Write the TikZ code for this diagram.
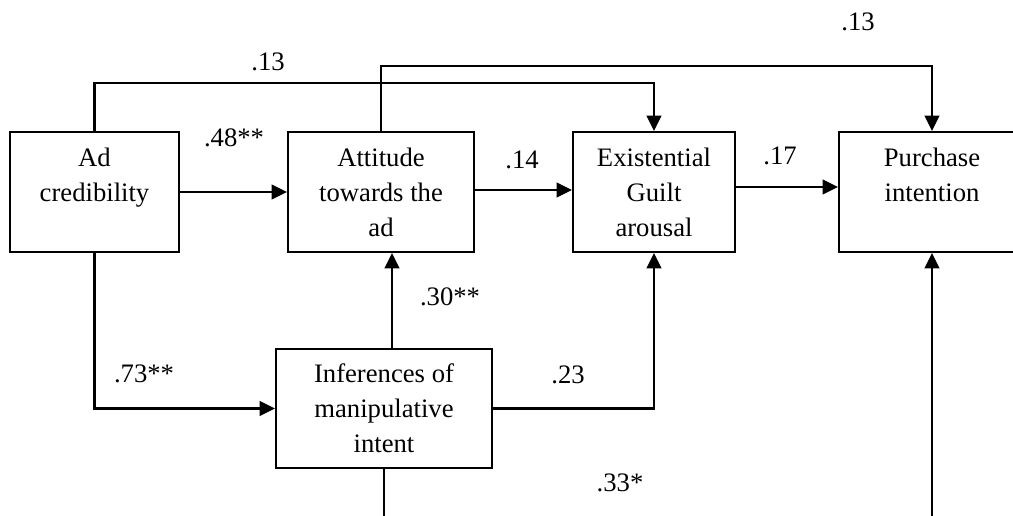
\documentclass[tikz,border=0pt]{standalone}
\usepackage{fontspec}
\setmainfont{Liberation Serif}
\usetikzlibrary{arrows.meta,positioning}

\tikzset{
  box/.style={draw, line width=1.6pt, align=center, inner sep=0pt,
    minimum height=90pt,
    font=\fontsize{20}{26.25}\selectfont},
  coef/.style={inner sep=0pt, font=\fontsize{20}{24}\selectfont},
  arr/.style={line width=1.6pt, -{Triangle[length=11.5pt,width=11pt]}},
}

\begin{document}
\begin{tikzpicture}[x=0.75pt, y=-0.75pt]
  \useasboundingbox (0,0) rectangle (1013,515);
  \clip (0,0) rectangle (1013,515);

  % constructs
  \node[box, minimum width=126.75pt] (ad)  at (94.5,192) {Ad\\credibility\\\mbox{}};
  \node[box, minimum width=139.5pt]  (att) at (381,192)  {Attitude\\towards the\\ad};
  \node[box, minimum width=121.5pt]  (ex)  at (654,192)  {Existential\\Guilt\\arousal};
  \node[box, minimum width=139.5pt]  (pur) at (932,192)  {Purchase\\intention\\\mbox{}};
  \node[box, minimum width=162pt, minimum height=89.25pt] (inf) at (384,408.5)
    {Inferences of\\manipulative\\intent};

  \coordinate (infup) at (392,0);

  % paths
  \draw[arr] (ad.east) -- (att.west);
  \draw[arr] ([yshift=1.5pt]att.east) -- ([yshift=1.5pt]ex.west);
  \draw[arr] ([yshift=3.75pt]ex.east) -- ([yshift=3.75pt]pur.west);
  \draw[arr] (ad.north) -- ++(0,-48) -| (ex.north);
  \draw[arr] (att.north) -- ++(0,-65) -| (pur.north);
  \draw[arr] (ad.south) |- (inf.west);
  \draw[arr] (inf.north -| infup) -- (att.south -| infup);
  \draw[arr] (inf.east) -| (ex.south);
  \draw[arr] (inf.south) -- ++(0,140) -| (pur.south);

  % path coefficients
  \node[coef] (c1) at (268,62)  {.13};
  \node[coef] (c2) at (858,22)  {.13};
  \node[coef] (c3) at (234,138) {.48**};
  \node[coef] (c4) at (522,160) {.14};
  \node[coef] (c5) at (780,156) {.17};
  \node[coef] (c6) at (450,297) {.30**};
  \node[coef] (c7) at (144,374) {.73**};
  \node[coef] (c8) at (568,375) {.23};
  \node[coef] (c9) at (620,483) {.33*};
\end{tikzpicture}
\end{document}
